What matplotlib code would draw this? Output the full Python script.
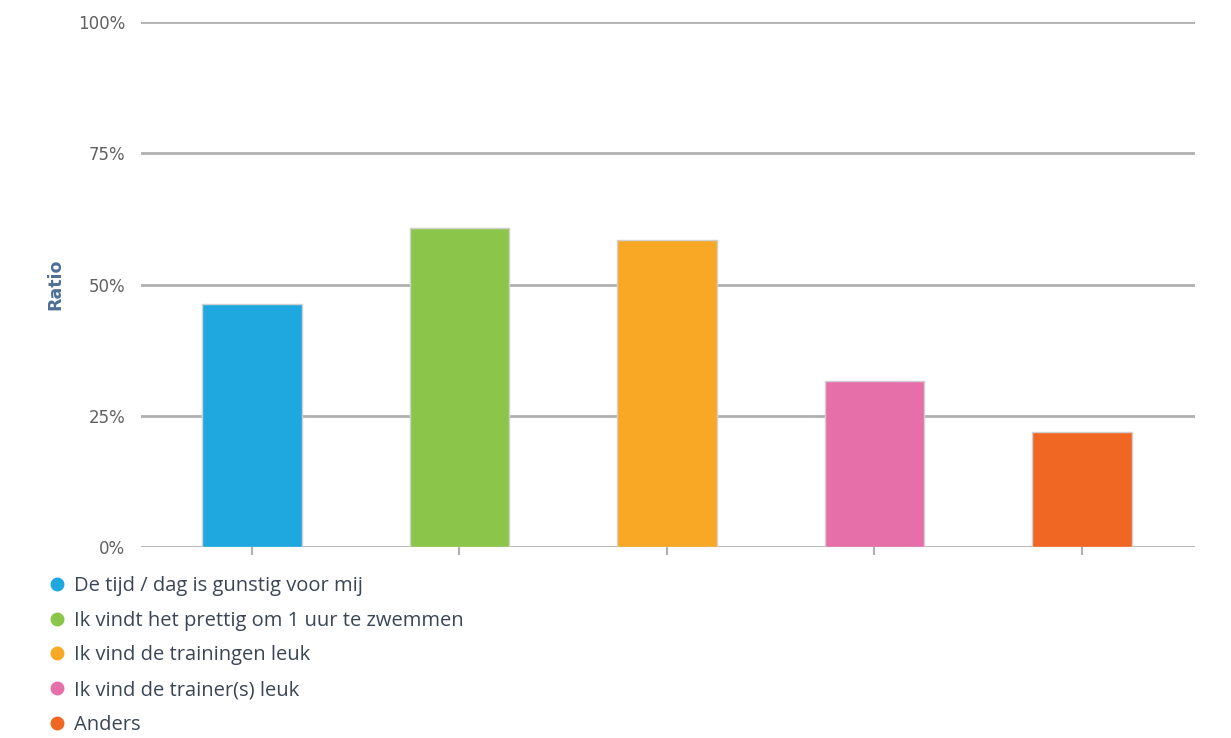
import matplotlib
matplotlib.use("Agg")
import matplotlib.pyplot as plt
from matplotlib.lines import Line2D

categories = [
    "De tijd / dag is gunstig voor mij",
    "Ik vindt het prettig om 1 uur te zwemmen",
    "Ik vind de trainingen leuk",
    "Ik vind de trainer(s) leuk",
    "Anders",
]
values = [46.3, 60.8, 58.4, 31.7, 21.9]
colors = ["#1fa8e0", "#8bc54a", "#f9a825", "#e66ea9", "#f06724"]
yticks = [0, 25, 50, 75, 100]
ytick_labels = ["0%", "25%", "50%", "75%", "100%"]

W, H = 1231, 738
fig = plt.figure(figsize=(W / 100, H / 100), dpi=100)
fig.patch.set_facecolor("white")

left, right = 141 / W, 1195 / W
bottom, top = 1 - 547 / H, 1 - 22 / H
ax = fig.add_axes([left, bottom, right - left, top - bottom])

x = list(range(len(categories)))
ax.bar(x, values, width=0.48, color=colors, edgecolor="#d0d0d0", linewidth=1.0, zorder=3)

ax.set_xlim(-0.535, 4.545)
ax.set_ylim(0, 100)
ax.set_yticks(yticks)
ax.set_yticklabels(ytick_labels, fontsize=12, color="#606060", family="DejaVu Sans")
ax.tick_params(axis="y", length=0, pad=11.5)
ax.set_xticks(x)
ax.set_xticklabels([])
ax.tick_params(axis="x", length=6, width=1.5, color="#b0b0b0", direction="out")
ax.grid(axis="y", color="#b0b0b0", linewidth=2, zorder=1)
for s in ax.spines.values():
    s.set_visible(False)

ax.set_ylabel("Ratio", fontsize=12.5, fontweight="bold", color="#4d6f96")
ax.yaxis.set_label_coords(-0.073, 0.5)

handles = [Line2D([0], [0], marker="o", linestyle="none", markersize=9,
                  markerfacecolor=c, markeredgecolor=c) for c in colors]
fig.legend(handles, categories, loc="upper left", bbox_to_anchor=(47 / W, 1 - 576 / H),
           frameon=False, labelspacing=0.73, handletextpad=0.32,
           handlelength=1.0, borderaxespad=0, borderpad=0,
           prop={"family": "Open Sans", "size": 14.5}, labelcolor="#3a4656")

fig.savefig("out.png", dpi=100, facecolor="white")
